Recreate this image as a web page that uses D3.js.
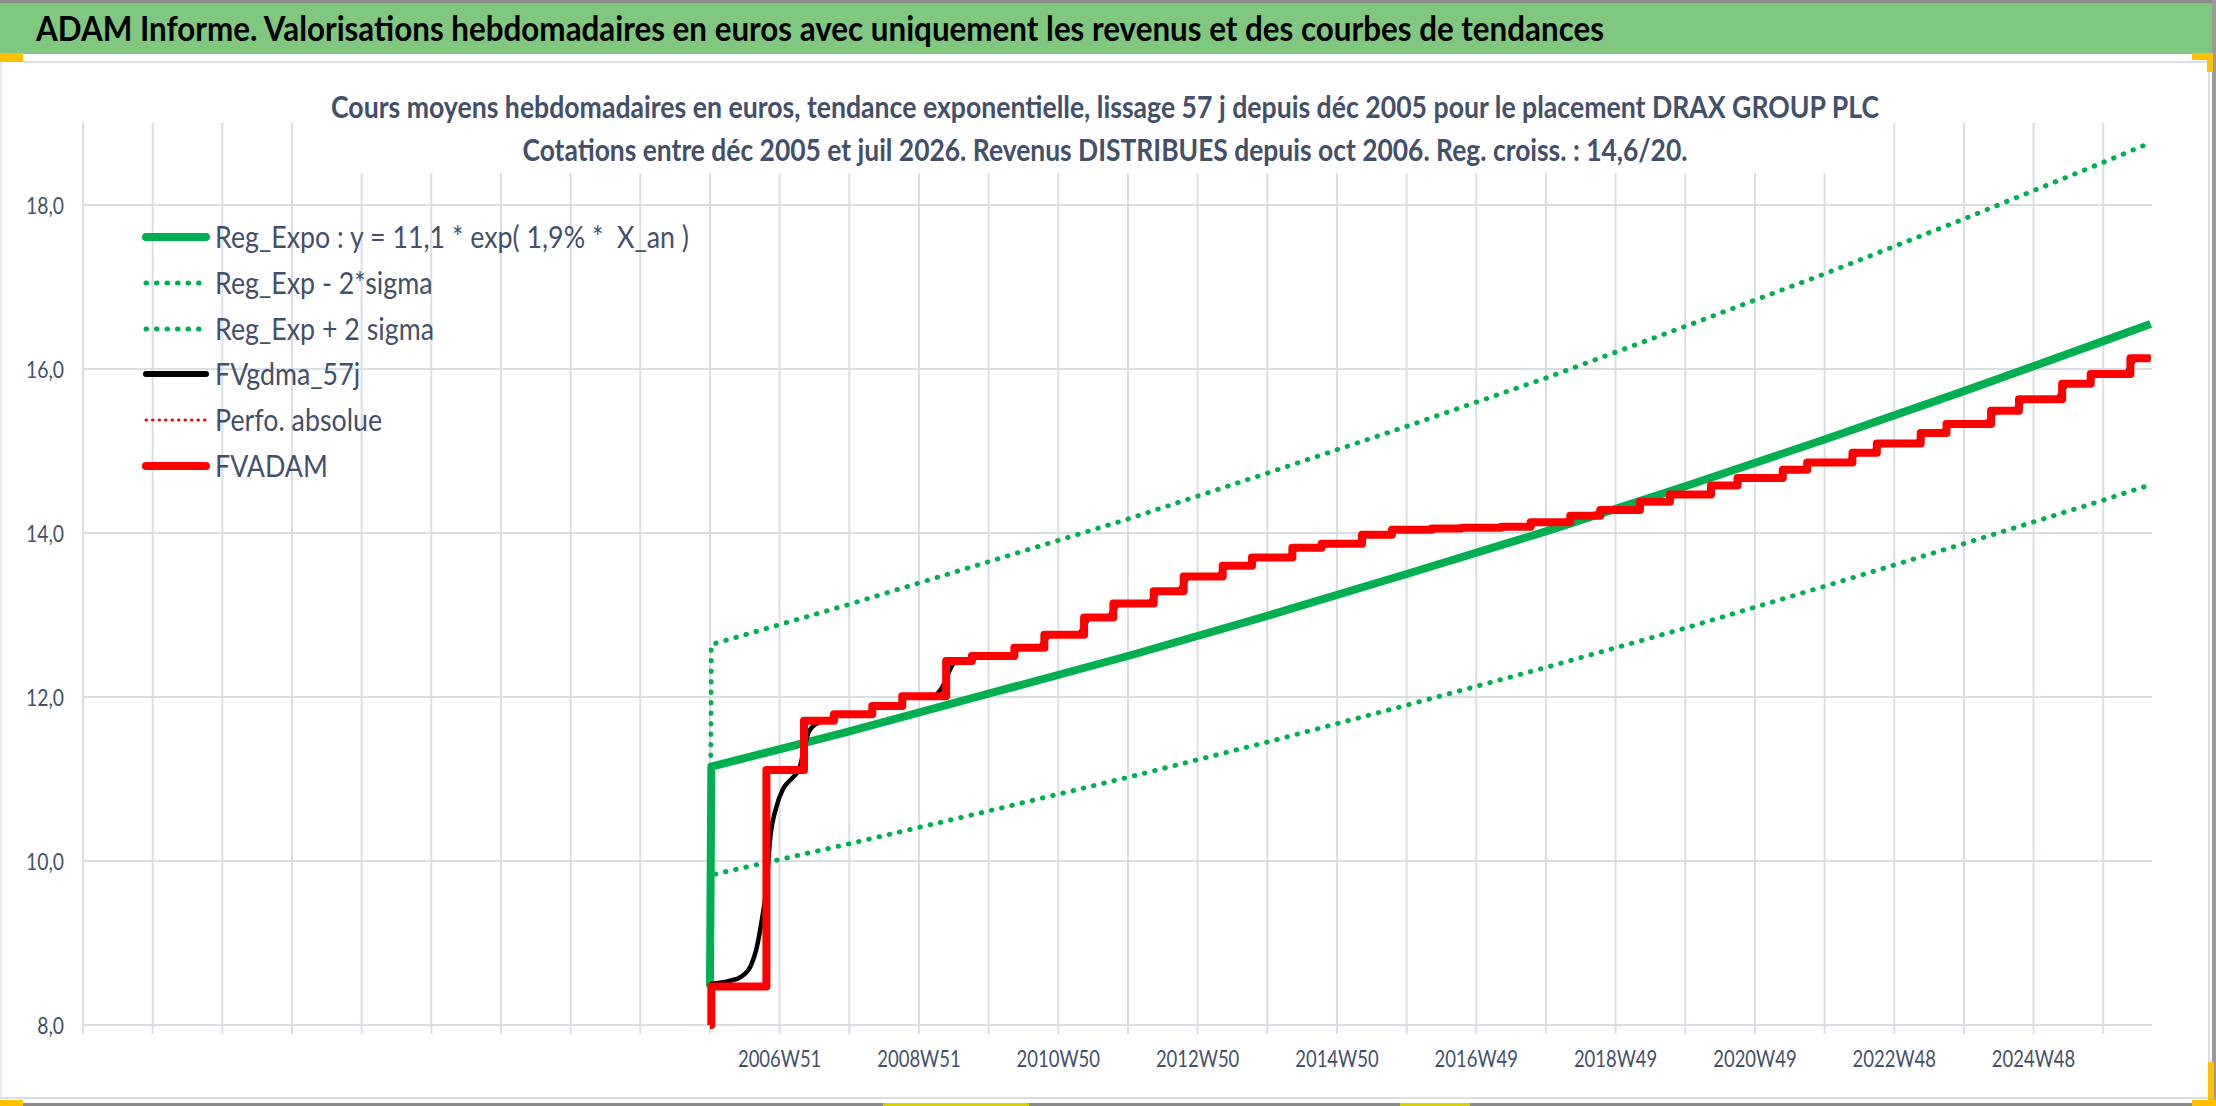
<!DOCTYPE html>
<html><head><meta charset="utf-8">
<script src="https://cdn.jsdelivr.net/npm/d3@7"></script>
<style>html,body{margin:0;padding:0;background:#fff;overflow:hidden;} svg{display:block;} text{white-space:pre;}</style>
</head><body>
<svg id="c" width="2216" height="1106"></svg>
<script>
// ---------- data ----------
const headerText = "ADAM Informe. Valorisations hebdomadaires en euros avec uniquement les revenus et des courbes de tendances";
const titleLine1 = "Cours moyens hebdomadaires en euros, tendance exponentielle, lissage 57 j depuis déc 2005 pour le placement DRAX GROUP PLC";
const titleLine2 = "Cotations entre déc 2005 et juil 2026. Revenus DISTRIBUES depuis oct 2006. Reg. croiss. : 14,6/20.";

// x unit: one category tick = 52 weeks, 0 = 2005W51
const yTickValues = [8, 10, 12, 14, 16, 18];
const xTickPositions = [-9,-8,-7,-6,-5,-4,-3,-2,-1,0,1,2,3,4,5,6,7,8,9,10,11,12,13,14,15,16,17,18,19,20];
const xLabelPositions = [1, 3, 5, 7, 9, 11, 13, 15, 17, 19];
const xLabels = ["2006W51","2008W51","2010W50","2012W50","2014W50","2016W49","2018W49","2020W49","2022W48","2024W48"];

const legendNames = ["Reg_Expo : y = 11,1 * exp( 1,9% *  X_an )", "Reg_Exp - 2*sigma", "Reg_Exp + 2 sigma", "FVgdma_57j", "Perfo. absolue", "FVADAM"];

// trend curves
const trendT   = [0, 0.0192, 2, 4, 6, 8, 10, 12, 14, 16, 18, 20, 20.68];
const regExpo  = [8.47, 11.15, 11.58, 12.04, 12.50, 12.99, 13.50, 14.02, 14.57, 15.14, 15.73, 16.34, 16.55];
const regMinus = [8.47, 9.83, 10.21, 10.61, 11.02, 11.45, 11.90, 12.36, 12.84, 13.35, 13.87, 14.40, 14.59];
const regPlus  = [8.47, 12.64, 13.13, 13.65, 14.17, 14.73, 15.30, 15.89, 16.52, 17.16, 17.83, 18.52, 18.76];

// FVADAM step series (value holds from its date until the next one)
const fvadamT = [0, 0.0192, 0.81, 1.35, 1.78, 2.33, 2.76, 3.39, 3.76, 4.37, 4.80, 5.37, 5.79, 6.37, 6.80, 7.36, 7.78, 8.36, 8.78, 9.36, 9.79, 10.36, 10.79, 11.36, 11.78, 12.35, 12.78, 13.35, 13.78, 14.37, 14.75, 15.40, 15.75, 16.40, 16.75, 17.38, 17.75, 18.39, 18.79, 19.41, 19.82, 20.39, 20.68];
const fvadamV = [8.00, 8.47, 11.11, 11.71, 11.79, 11.89, 12.01, 12.44, 12.50, 12.60, 12.76, 12.97, 13.14, 13.29, 13.47, 13.60, 13.70, 13.82, 13.87, 13.98, 14.04, 14.055, 14.065, 14.075, 14.13, 14.21, 14.28, 14.38, 14.47, 14.58, 14.67, 14.77, 14.86, 14.98, 15.09, 15.22, 15.33, 15.49, 15.63, 15.82, 15.94, 16.13, 16.13];

// FVgdma_57j smoothed curve
const gdmaT = [0, 0.29, 0.45, 0.59, 0.67, 0.75, 0.81, 0.86, 0.95, 1.05, 1.19, 1.28, 1.35, 1.42, 1.52, 1.69, 1.78, 1.87, 2.24, 2.33, 2.42, 2.67, 2.76, 2.85, 3.22, 3.32, 3.39, 3.46, 3.56, 3.67, 3.76, 3.85, 4.28, 4.37, 4.46, 4.71, 4.80, 4.89, 5.28, 5.37, 5.46, 5.70, 5.79, 5.88, 6.28, 6.37, 6.46, 6.71, 6.80, 6.89, 7.27, 7.36, 7.45, 7.69, 7.78, 7.87, 8.27, 8.36, 8.45, 8.69, 8.78, 8.87, 9.27, 9.36, 9.45, 9.70, 9.79, 9.88, 11.69, 11.78, 11.87, 12.26, 12.35, 12.44, 12.69, 12.78, 12.87, 13.26, 13.35, 13.44, 13.69, 13.78, 13.87, 14.28, 14.37, 14.46, 14.66, 14.75, 14.84, 15.31, 15.40, 15.49, 15.66, 15.75, 15.84, 16.31, 16.40, 16.49, 16.66, 16.75, 16.84, 17.29, 17.38, 17.47, 17.66, 17.75, 17.84, 18.30, 18.39, 18.48, 18.70, 18.79, 18.88, 19.32, 19.41, 19.50, 19.73, 19.82, 19.91, 20.30, 20.39, 20.48, 20.68];
const gdmaV = [8.50, 8.54, 8.59, 8.73, 8.94, 9.31, 9.67, 10.24, 10.65, 10.88, 11.02, 11.12, 11.36, 11.58, 11.67, 11.72, 11.75, 11.79, 11.79, 11.84, 11.89, 11.89, 11.95, 12.01, 12.02, 12.10, 12.22, 12.36, 12.44, 12.44, 12.47, 12.50, 12.50, 12.55, 12.60, 12.60, 12.68, 12.76, 12.76, 12.865, 12.97, 12.97, 13.055, 13.14, 13.14, 13.215, 13.29, 13.29, 13.38, 13.47, 13.47, 13.535, 13.60, 13.60, 13.65, 13.70, 13.70, 13.76, 13.82, 13.82, 13.845, 13.87, 13.87, 13.925, 13.98, 13.98, 14.01, 14.04, 14.075, 14.10, 14.13, 14.13, 14.17, 14.21, 14.21, 14.245, 14.28, 14.28, 14.33, 14.38, 14.38, 14.425, 14.47, 14.47, 14.525, 14.58, 14.58, 14.625, 14.67, 14.67, 14.72, 14.77, 14.77, 14.815, 14.86, 14.86, 14.92, 14.98, 14.98, 15.035, 15.09, 15.09, 15.155, 15.22, 15.22, 15.275, 15.33, 15.33, 15.41, 15.49, 15.49, 15.56, 15.63, 15.63, 15.725, 15.82, 15.82, 15.88, 15.94, 15.94, 16.035, 16.13, 16.13];

// ---------- drawing ----------
const FONT = "Lato, 'Open Sans', 'Liberation Sans', sans-serif";
const TXT = "#44506A";
const GRID = "#D9DDE4";
const GREEN = "#00B050";
const svg = d3.select("#c");

const x = d3.scaleLinear().domain([-9, 20.70]).range([83, 2152]);
const y = d3.scaleLinear().domain([8, 19]).range([1025, 123]);

function fit(sel, ratio) {
  sel.each(function () {
    const w = this.getComputedTextLength();
    this.setAttribute("textLength", (w * ratio).toFixed(1));
    this.setAttribute("lengthAdjust", "spacingAndGlyphs");
  });
}
function ratioFor(text, size, weight, target) {
  const t = svg.append("text").attr("font-family", FONT).attr("font-size", size).attr("font-weight", weight).text(text);
  const w = t.node().getComputedTextLength();
  t.remove();
  return target / w;
}

// frame + header
svg.append("rect").attr("x", 0).attr("y", 0).attr("width", 2216).attr("height", 1106).attr("fill", "#fff");
svg.append("rect").attr("x", 0).attr("y", 0).attr("width", 2216).attr("height", 3).attr("fill", "#8a8a8a");
svg.append("rect").attr("x", 0).attr("y", 3).attr("width", 2216).attr("height", 51).attr("fill", "#80C880");
svg.append("rect").attr("x", 2212).attr("y", 0).attr("width", 4).attr("height", 1106).attr("fill", "#9a9a9a");
const header = svg.append("text").attr("x", 36).attr("y", 41).attr("font-family", FONT).attr("font-weight", 700)
  .attr("font-size", 35).attr("fill", "#000").text(headerText);
fit(header, 1568 / header.node().getComputedTextLength());

// chart area border
svg.append("line").attr("x1", 23).attr("x2", 2210).attr("y1", 62).attr("y2", 62).attr("stroke", "#DADDE2").attr("stroke-width", 2);
svg.append("line").attr("x1", 2209).attr("x2", 2209).attr("y1", 62).attr("y2", 1098).attr("stroke", "#DADDE2").attr("stroke-width", 2);
svg.append("line").attr("x1", 1).attr("x2", 1).attr("y1", 62).attr("y2", 1098).attr("stroke", "#E6E8EC").attr("stroke-width", 2);
svg.append("line").attr("x1", 0).attr("x2", 2210).attr("y1", 1098).attr("y2", 1098).attr("stroke", "#DADDE2").attr("stroke-width", 2);
svg.append("rect").attr("x", 0).attr("y", 1103).attr("width", 2216).attr("height", 3).attr("fill", "#8a8a8a");
// selection handles
const Y = "#FFC000";
[[0,53,23,9],[2192,53,20,7],[2207,53,6,19],[2208,1062,6,44],[2192,1100,24,6],[0,1100,23,6]].forEach(r =>
  svg.append("rect").attr("x", r[0]).attr("y", r[1]).attr("width", r[2]).attr("height", r[3]).attr("fill", Y));
[[883,1103,146,3],[1400,1103,70,3]].forEach(r =>
  svg.append("rect").attr("x", r[0]).attr("y", r[1]).attr("width", r[2]).attr("height", r[3]).attr("fill", "#D2D200"));

// gridlines
const g = svg.append("g");
g.selectAll(".hg").data(yTickValues).join("line")
  .attr("x1", x.range()[0]).attr("x2", x.range()[1])
  .attr("y1", d => y(d)).attr("y2", d => y(d)).attr("stroke", GRID).attr("stroke-width", 2);
g.selectAll(".vg").data(xTickPositions).join("line")
  .attr("x1", d => x(d)).attr("x2", d => x(d))
  .attr("y1", y(19)).attr("y2", y(8) + 9).attr("stroke", GRID).attr("stroke-width", 2);

// y axis labels
const yr = ratioFor("18,0", 24, 400, 38);
const yl = svg.append("g").selectAll("text").data(yTickValues).join("text")
  .attr("x", 64).attr("y", d => y(d) + 8.5).attr("text-anchor", "end")
  .attr("font-family", FONT).attr("font-size", 24).attr("fill", TXT)
  .text(d => d3.format(".1f")(d).replace(".", ","));
fit(yl, yr);

// x axis labels
const xr = ratioFor("2006W51", 24, 400, 83.4);
const xl = svg.append("g").selectAll("text").data(xLabelPositions).join("text")
  .attr("x", (d) => x(d)).attr("y", 1067).attr("text-anchor", "middle")
  .attr("font-family", FONT).attr("font-size", 24).attr("fill", TXT)
  .text((d, i) => xLabels[i]);
fit(xl, xr);

// title (white text box over gridlines)
svg.append("rect").attr("x", 322).attr("y", 78).attr("width", 1568).attr("height", 95).attr("fill", "#fff");
const t1 = svg.append("text").attr("x", 1105).attr("y", 118).attr("text-anchor", "middle")
  .attr("font-family", FONT).attr("font-weight", 700).attr("font-size", 30).attr("fill", TXT).text(titleLine1);
fit(t1, 1548 / t1.node().getComputedTextLength());
const t2 = svg.append("text").attr("x", 1105).attr("y", 161).attr("text-anchor", "middle")
  .attr("font-family", FONT).attr("font-weight", 700).attr("font-size", 30).attr("fill", TXT).text(titleLine2);
fit(t2, 1165 / t2.node().getComputedTextLength());

// series
const pts = (T, V) => T.map((t, i) => [t, V[i]]);
const straight = d3.line().x(d => x(d[0])).y(d => y(d[1]));
const smooth = d3.line().x(d => x(d[0])).y(d => y(d[1])).curve(d3.curveMonotoneX);
const step = d3.line().x(d => x(d[0])).y(d => y(d[1])).curve(d3.curveStepAfter);
const plot = svg.append("g").attr("fill", "none");

plot.append("path").attr("d", straight(pts(trendT, regExpo))).attr("stroke", GREEN).attr("stroke-width", 8).attr("stroke-linejoin", "round");
plot.append("path").attr("d", straight(pts(trendT, regMinus))).attr("stroke", GREEN).attr("stroke-width", 5)
  .attr("stroke-dasharray", "0.5 10").attr("stroke-linecap", "round");
plot.append("path").attr("d", straight(pts(trendT, regPlus))).attr("stroke", GREEN).attr("stroke-width", 5)
  .attr("stroke-dasharray", "0.5 10").attr("stroke-linecap", "round");
plot.append("path").attr("d", smooth(pts(gdmaT, gdmaV))).attr("stroke", "#000").attr("stroke-width", 4.5).attr("stroke-linejoin", "round");
plot.append("path").attr("d", step(pts(fvadamT, fvadamV))).attr("stroke", "#FF0000").attr("stroke-width", 8).attr("stroke-linejoin", "round");

// legend
const legStyles = [
  {c: GREEN, w: 8, dash: null},
  {c: GREEN, w: 5, dash: "0.5 10"},
  {c: GREEN, w: 5, dash: "0.5 10"},
  {c: "#000", w: 6, dash: null},
  {c: "#FF0000", w: 3, dash: "0.5 6"},
  {c: "#FF0000", w: 8, dash: null}
];
const legRows = [237, 283, 329, 374, 420, 466];
const leg = svg.append("g");
legendNames.forEach((name, i) => {
  const s = legStyles[i];
  const ln = leg.append("line").attr("x1", 146).attr("x2", 206).attr("y1", legRows[i]).attr("y2", legRows[i])
    .attr("stroke", s.c).attr("stroke-width", s.w).attr("stroke-linecap", "round");
  if (s.dash) ln.attr("stroke-dasharray", s.dash);
});
const lr = ratioFor(legendNames[0], 30, 400, 474);
const lt = leg.selectAll("text").data(legendNames).join("text")
  .attr("x", 215).attr("y", (d, i) => legRows[i] + 11)
  .attr("font-family", FONT).attr("font-size", 30).attr("fill", TXT).text(d => d);
fit(lt, lr);
</script>
</body></html>
